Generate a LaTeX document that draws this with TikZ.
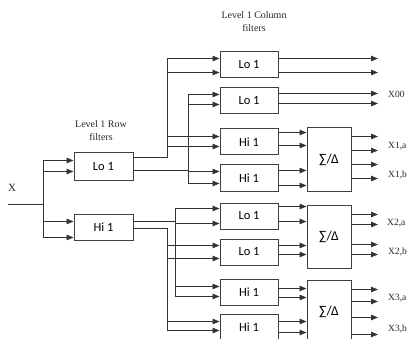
\documentclass[tikz,border=0pt]{standalone}
\usepackage{fontspec}
\setmainfont{Liberation Serif}
\newfontfamily\boxfont{Carlito}
\usetikzlibrary{arrows.meta, calc}

\begin{document}
\begin{tikzpicture}[x=1pt, y=-1pt,
  wire/.style={black!80, line width=0.9pt},
  arr/.style={wire, -{Triangle[length=7pt,width=5.5pt]}},
  filt/.style={draw=black!75, line width=1pt, minimum width=59pt, minimum height=26pt,
    inner sep=0pt, font=\boxfont\fontsize{12.5}{14}\selectfont},
  sumdiff/.style={filt, minimum width=44pt, minimum height=63pt, font=\boxfont\fontsize{13.5}{15}\selectfont},
  lbl/.style={font=\fontsize{10}{13}\selectfont, align=center, text=black!85},
  outlbl/.style={font=\fontsize{9.5}{11}\selectfont, anchor=west, inner sep=0pt, text=black!85}]
\useasboundingbox (0,0) rectangle (409,339);
% labels
\node [lbl] (collbl) at (254,21.5) {Level 1 Column\\filters};
\node [lbl] (rowlbl) at (101,130.5) {Level 1 Row\\filters};
\node [lbl, font=\fontsize{11}{13}\selectfont] (xlbl) at (12,188) {X};
% level 1 row filters
\node [filt, minimum height=27pt] (rlo) at (103.5,166.5) {Lo 1};
\node [filt] (rhi) at (103.5,227) {Hi 1};
% level 1 column filters
\node [filt, minimum width=58pt] (c1) at (249,65)  {Lo 1};
\node [filt, minimum width=58pt] (c2) at (249,101) {Lo 1};
\node [filt, minimum width=58pt] (c3) at (249,142) {Hi 1};
\node [filt, minimum width=58pt] (c4) at (249,178) {Hi 1};
\node [filt, minimum width=58pt] (d1) at (249,216) {Lo 1};
\node [filt, minimum width=58pt] (d2) at (249,252) {Lo 1};
\node [filt, minimum width=58pt] (d3) at (249,292) {Hi 1};
\node [filt, minimum width=58pt] (d4) at (249,327) {Hi 1};
% sum / difference
\node [sumdiff] (s1) at (329,159.5) {∑/Δ};
\node [sumdiff] (s2) at (329,236.5) {∑/Δ};
\node [sumdiff] (s3) at (329,311.5) {∑/Δ};
% ports
\foreach \n/\ia/\ib/\oa/\ob in {rlo/8/19/5/18, rhi/8/24/8/15, c1/7/21/7/21, c2/7/17/6/16,
    c3/8/18/4/17, c4/7/19/6/21, d1/6/21/4/19, d2/7/20/7/16, d3/8/18/10/19, d4/8/17/8/19} {
  \coordinate (\n-i1) at ([yshift=-\ia]\n.north west);
  \coordinate (\n-i2) at ([yshift=-\ib]\n.north west);
  \coordinate (\n-o1) at ([yshift=-\oa]\n.north east);
  \coordinate (\n-o2) at ([yshift=-\ob]\n.north east);
}
\coordinate (xin) at (8,204);
\coordinate (xbus) at (43,204);
\coordinate (busa) at (167,0);
\coordinate (busb) at (188,0);
\coordinate (busc) at (175,0);
\coordinate (busd) at (167,0);
\coordinate (oend) at (378,0);
% input
\draw [wire] (xin) -- (xbus);
\foreach \tgt in {rlo-i1, rlo-i2, rhi-i1, rhi-i2}
  \draw [arr] (xbus) |- (\tgt);
% row -> column
\foreach \src/\bus/\tgt in {rlo-o1/busa/c1, rlo-o1/busa/c3, rlo-o2/busb/c2, rlo-o2/busb/c4,
    rhi-o1/busc/d1, rhi-o1/busc/d3, rhi-o2/busd/d2, rhi-o2/busd/d4} {
  \draw [arr] (\src) -- (\src -| \bus) |- (\tgt-i1);
  \draw [arr] (\src) -- (\src -| \bus) |- (\tgt-i2);
}
% column -> sum/diff
\foreach \flt/\sd in {c3/s1, c4/s1, d1/s2, d2/s2, d3/s3, d4/s3} {
  \draw [arr] (\flt-o1) -- (\flt-o1 -| \sd.west);
  \draw [arr] (\flt-o2) -- (\flt-o2 -| \sd.west);
}
% outputs
\foreach \flt in {c1, c2} {
  \draw [arr] (\flt-o1) -- (\flt-o1 -| oend);
  \draw [arr] (\flt-o2) -- (\flt-o2 -| oend);
}
\foreach \sd/\ka/\kb/\kc/\kd in {s1/9/23/37/51, s2/10/20/40/50, s3/10/22/38/55} {
  \foreach \k in {\ka,\kb,\kc,\kd} {
    \coordinate (p) at ([yshift=-\k]\sd.north east);
    \draw [arr] (p) -- (p -| oend);
  }
}
\node [outlbl] (x00) at (388,94)  {X00};
\node [outlbl] (x1a) at (388,146) {X1,a};
\node [outlbl] (x1b) at (388,175) {X1,b};
\node [outlbl] (x2a) at (387,223) {X2,a};
\node [outlbl] (x2b) at (388,252) {X2,b};
\node [outlbl] (x3a) at (388,298) {X3,a};
\node [outlbl] (x3b) at (388,329) {X3,b};
\end{tikzpicture}
\end{document}
